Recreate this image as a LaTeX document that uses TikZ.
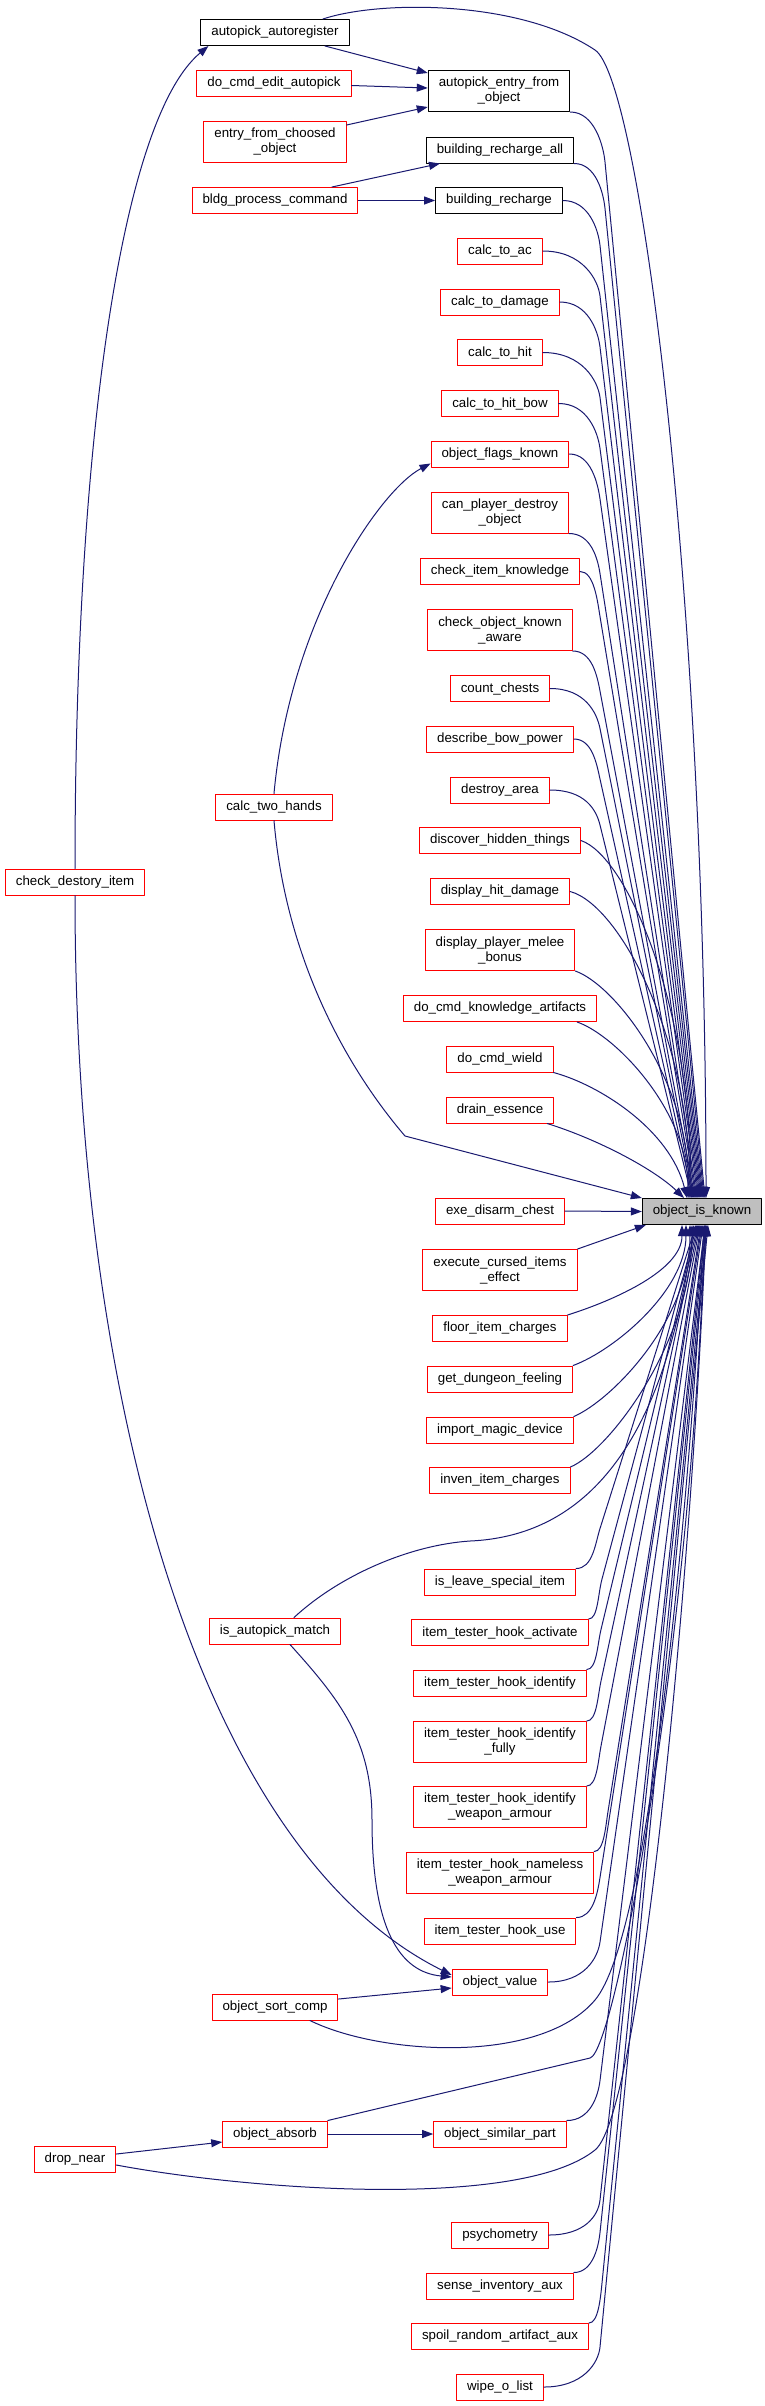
\documentclass[tikz,border=0pt]{standalone}
\usepackage{fontspec}
\setmainfont{Liberation Sans}
\usetikzlibrary{arrows.meta,calc,positioning}
\definecolor{cgEdge}{HTML}{191970}
\definecolor{cgRed}{HTML}{FF0000}
\definecolor{cgGrey}{HTML}{BFBFBF}
% long caller edge: bend at column #3, drop #4, then straight into object_is_known
\newcommand\farcall[5][0]{%
  \coordinate (colx) at (#3,0);
  \coordinate (bend) at ($(#2-|colx)+(0,#4)$);
  \draw[calls] (#2) .. controls ($(#2)!0.7!(#2-|colx)$) and ($(bend)!-16pt!([xshift=#1]oik.#5)$) .. (bend) -- ([xshift=#1]oik.#5);}

\begin{document}
\begin{tikzpicture}[x=1pt,y=-1pt,>=Latex,line cap=round,line join=round,
  fn/.style={draw=cgRed,fill=white,line width=1pt,align=center,font=\fontsize{13.3}{15}\selectfont,inner xsep=10.5pt,inner ysep=2pt,minimum height=26pt},
  fndoc/.style={fn,draw=black},
  fnroot/.style={fn,draw=black,fill=cgGrey},
  twol/.style={minimum height=41pt},
  calls/.style={draw=cgEdge,line width=1pt,-{Triangle[length=11pt,width=8pt]}}]
\path[fill=white] (0,0) rectangle (764,2406);
\useasboundingbox (0,0) rectangle (764,2406);

% left columns
\node[fndoc] (aa) at (275,32.5) {autopick\_autoregister};
\node[fn] (dcea) at (274,83.5) {do\_cmd\_edit\_autopick};
\node[fn,twol] (efco) at (275,142) {entry\_from\_choosed\\\_object};
\node[fn] (bpc) at (275,200.5) {bldg\_process\_command};
\node[fn] (cth) at (274,807) {calc\_two\_hands};
\node[fn] (cdi) at (75,882) {check\_destory\_item};
\node[fn] (iam) at (275,1631) {is\_autopick\_match};
\node[fn] (osc) at (275,2007) {object\_sort\_comp};
\node[fn] (oa) at (275,2134) {object\_absorb};
\node[fn] (dn) at (75,2159) {drop\_near};

% middle column
\node[fndoc,twol] (aefo) at (499,91) {autopick\_entry\_from\\\_object};
\node[fndoc] (bra) at (500,150) {building\_recharge\_all};
\node[fndoc] (brc) at (499,200.5) {building\_recharge};
\node[fn] (ctac) at (500,251) {calc\_to\_ac};
\node[fn] (ctdm) at (500,302) {calc\_to\_damage};
\node[fn] (cthit) at (500,352.5) {calc\_to\_hit};
\node[fn] (ctbow) at (500,403.5) {calc\_to\_hit\_bow};
\node[fn] (ofk) at (500,454) {object\_flags\_known};
\node[fn,twol] (cpdo) at (500,512.5) {can\_player\_destroy\\\_object};
\node[fn] (cik) at (500,571.5) {check\_item\_knowledge};
\node[fn,twol] (coka) at (500,630) {check\_object\_known\\\_aware};
\node[fn] (cch) at (500,688.5) {count\_chests};
\node[fn] (dbp) at (500,739) {describe\_bow\_power};
\node[fn] (dar) at (500,790) {destroy\_area};
\node[fn] (dht) at (500,840.5) {discover\_hidden\_things};
\node[fn] (dhd) at (500,891.5) {display\_hit\_damage};
\node[fn,twol] (dpmb) at (500,950) {display\_player\_melee\\\_bonus};
\node[fn] (dcka) at (500,1008.5) {do\_cmd\_knowledge\_artifacts};
\node[fn] (dcw) at (500,1059) {do\_cmd\_wield};
\node[fn] (dess) at (500,1110) {drain\_essence};
\node[fn] (edc) at (500,1211) {exe\_disarm\_chest};
\node[fn,twol] (ecie) at (500,1270) {execute\_cursed\_items\\\_effect};
\node[fn] (fic) at (500,1328.5) {floor\_item\_charges};
\node[fn] (gdf) at (500,1379) {get\_dungeon\_feeling};
\node[fn] (imd) at (500,1430) {import\_magic\_device};
\node[fn] (iic) at (500,1480.5) {inven\_item\_charges};
\node[fn] (ilsi) at (500,1582) {is\_leave\_special\_item};
\node[fn] (itha) at (500,1632.5) {item\_tester\_hook\_activate};
\node[fn] (ithi) at (500,1683) {item\_tester\_hook\_identify};
\node[fn,twol] (ithif) at (500,1742) {item\_tester\_hook\_identify\\\_fully};
\node[fn,twol] (ithiw) at (500,1807) {item\_tester\_hook\_identify\\\_weapon\_armour};
\node[fn,twol] (ithnw) at (500,1872.5) {item\_tester\_hook\_nameless\\\_weapon\_armour};
\node[fn] (ithu) at (500,1931) {item\_tester\_hook\_use};
\node[fn] (ov) at (500,1982) {object\_value};
\node[fn] (osp) at (500,2134) {object\_similar\_part};
\node[fn] (psy) at (500,2235) {psychometry};
\node[fn] (sia) at (500,2286) {sense\_inventory\_aux};
\node[fn] (sraa) at (500,2336.5) {spoil\_random\_artifact\_aux};
\node[fn] (wol) at (500,2387) {wipe\_o\_list};

\node[fnroot] (oik) at (702,1211.5) {object\_is\_known};

% calls between the callers
\draw[calls] ([xshift=50]aa.south) -- ([yshift=-3]aefo.north west);
\draw[calls] ([yshift=-2]dcea.east) -- ([yshift=3]aefo.west);
\draw[calls] ([yshift=-4]efco.north east) -- ([yshift=-16]aefo.west);
\draw[calls] ([xshift=57]bpc.north) -- ([xshift=-60]bra.south);
\draw[calls] (bpc.east) -- (brc.west);
\draw[calls] (cth.north) .. controls (290,620) and (380,490) .. ([yshift=4]ofk.south west);
\draw[calls] (cdi.north) .. controls (75,450) and (120,120) .. ([xshift=8]aa.south west);
\draw[calls] (cdi.south) .. controls (75,1400) and (200,1850) .. ([yshift=7]ov.west);
\draw[calls] ([xshift=15]iam.south) .. controls (340,1700) and (372,1740) .. (372,1820) .. controls (372,1930) and (400,1972) .. ([yshift=5]ov.west);
\draw[calls] ([yshift=8]osc.east) -- ([yshift=-6]ov.west);
\draw[calls] ([yshift=5]dn.east) -- ([yshift=-8]oa.west);
\draw[calls] (oa.east) -- (osp.west);

% calls into object_is_known from above
\draw[calls] ([xshift=48]aa.north) .. controls (380,0) and (520,0) .. (595,50) .. controls (640,80) and (706,600) .. ([xshift=4]oik.north);
\farcall[3]{aefo.south east}{605}{50}{north}
\farcall[2]{bra.south east}{605}{45}{north}
\farcall[1]{brc.east}{600}{45}{north}
\farcall[0]{ctac.east}{600}{45}{north}
\farcall[-1]{ctdm.east}{600}{45}{north}
\farcall[-2]{cthit.east}{600}{45}{north}
\farcall[-3]{ctbow.east}{600}{45}{north}
\farcall[-4]{ofk.east}{600}{45}{north}
\farcall[-5]{cpdo.south east}{600}{40}{north}
\farcall[-6]{cik.east}{600}{45}{north}
\farcall[-7]{coka.south east}{600}{40}{north}
\farcall[-8]{cch.east}{600}{40}{north}
\farcall[-9]{dbp.east}{600}{40}{north}
\farcall[-10]{dar.east}{600}{35}{north}
\draw[calls] (dht.east) .. controls (625,855) and (691,1000) .. ([xshift=-11]oik.north);
\draw[calls] (dhd.east) .. controls (620,905) and (690,1040) .. ([xshift=-12]oik.north);
\draw[calls] (dpmb.south east) .. controls (615,985) and (689,1080) .. ([xshift=-13]oik.north);
\draw[calls] ([xshift=-20]dcka.south east) .. controls (615,1035) and (688,1110) .. ([xshift=-14]oik.north);
\draw[calls] (dcw.south east) .. controls (600,1085) and (670,1130) .. ([xshift=-15]oik.north);
\draw[calls] ([xshift=-7]dess.south east) .. controls (600,1140) and (655,1170) .. ([xshift=-18]oik.north);
\draw[calls] (cth.south) .. controls (285,950) and (340,1060) .. (405,1136) -- (oik.north west);
\draw[calls] (edc.east) -- (oik.west);

% calls into object_is_known from below
\draw[calls] (ecie.north east) -- ([xshift=4]oik.south west);
\draw[calls] (fic.north east) .. controls (615,1300) and (682,1270) .. ([xshift=-20]oik.south);
\draw[calls] (gdf.north east) .. controls (615,1350) and (686,1290) .. ([xshift=-16]oik.south);
\draw[calls] (imd.north east) .. controls (612,1400) and (690,1320) .. ([xshift=-12]oik.south);
\draw[calls] (iic.north east) .. controls (610,1450) and (692,1340) .. ([xshift=-10]oik.south);
\draw[calls] ([xshift=19]iam.north) .. controls (340,1575) and (410,1545) .. (470,1541) .. controls (560,1537) and (660,1480) .. ([xshift=-8]oik.south);
\farcall[-6]{ilsi.north east}{600}{-40}{south}
\farcall[-5]{itha.north east}{602}{-40}{south}
\farcall[-4]{ithi.north east}{601}{-40}{south}
\farcall[-3]{ithif.north east}{601}{-40}{south}
\farcall[-2]{ithiw.north east}{601}{-40}{south}
\farcall[-1]{ithnw.north east}{608}{-40}{south}
\farcall[0]{ithu.north east}{600}{-40}{south}
\farcall[1]{ov.east}{600}{-40}{south}
\draw[calls] ([xshift=35]osc.south) .. controls (380,2055) and (540,2065) .. (595,2000) .. controls (650,1935) and (690,1500) .. ([xshift=2]oik.south);
\draw[calls] (oa.north east) -- (590,2058) .. controls (615,2052) and (690,1650) .. ([xshift=3]oik.south);
\draw[calls] ([yshift=-6]dn.east) .. controls (250,2190) and (520,2210) .. (595,2150) .. controls (640,2114) and (690,1600) .. ([xshift=4]oik.south);
\farcall[3]{osp.north east}{600}{-40}{south}
\farcall[3]{psy.east}{600}{-35}{south}
\farcall[4]{sia.north east}{600}{-40}{south}
\farcall[5]{sraa.north east}{602}{-40}{south}
\farcall[6]{wol.east}{600}{-40}{south}
\end{tikzpicture}
\end{document}
